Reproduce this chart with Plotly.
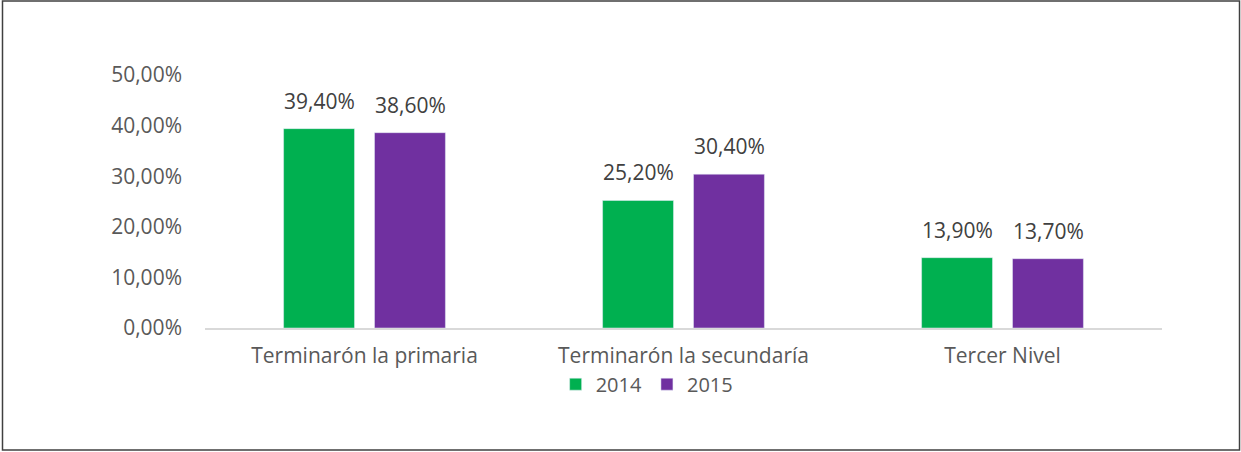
import plotly.graph_objects as go

categories = ["Terminarón la primaria", "Terminarón la secundaría", "Tercer Nivel"]
values_2014 = [39.4, 25.2, 13.9]
values_2015 = [38.6, 30.4, 13.7]
series_names = ["2014", "2015"]
colors = ["#00B050", "#7030A0"]

def fmt(v):
    return f"{v:.2f}".replace(".", ",") + "%"

font_family = "'Open Sans', Lato, sans-serif"
FS = 21

fig = go.Figure()
for name, vals, col, shift in zip(series_names, [values_2014, values_2015], colors, [-45.5, 45.5]):
    fig.add_trace(go.Bar(
        x=categories, y=vals, name=name, marker_color=col,
        cliponaxis=False,
    ))
    for c, v in zip(categories, vals):
        fig.add_annotation(x=c, y=v, text=fmt(v), showarrow=False,
                           xshift=shift, yshift=12, yanchor="bottom",
                           font=dict(size=FS, color="#404040", family=font_family))

fig.update_layout(
    width=1241, height=452,
    paper_bgcolor="white", plot_bgcolor="white",
    margin=dict(l=205, r=79, t=75, b=124),
    barmode="group", bargap=0.43, bargroupgap=0.22,
    separators=",.",
    font=dict(family=font_family, color="#595959", size=FS),
    xaxis=dict(showline=True, linecolor="#D9D9D9", linewidth=2, ticks="",
               ticklabelstandoff=8,
               tickfont=dict(size=FS, color="#595959"), showgrid=False),
    yaxis=dict(range=[0, 50], dtick=10, tickformat=".2f", ticksuffix="%",
               showgrid=False, zeroline=False, showline=False,
               ticklabelstandoff=22,
               tickfont=dict(size=FS, color="#595959")),
    showlegend=True,
    legend=dict(orientation="h", x=0.462, xanchor="center", y=-0.222, yanchor="middle",
                font=dict(size=20, color="#595959"), itemwidth=30,
                tracegroupgap=0, bgcolor="rgba(0,0,0,0)"),
    shapes=[dict(type="rect", xref="paper", yref="paper",
                 x0=-0.2116, x1=1.081, y0=-0.482, y1=1.2925,
                 line=dict(color="#404040", width=1.5))],
)

fig.write_html("out.html", config={"displayModeBar": False},
               post_script="document.body.style.margin='0';")
